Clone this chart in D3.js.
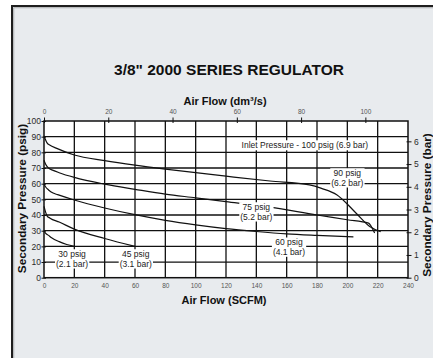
<!DOCTYPE html>
<html>
<head>
<meta charset="utf-8">
<script src="https://cdn.jsdelivr.net/npm/d3@7"></script>
<style>
  html, body { margin: 0; padding: 0; background: #ffffff; }
  svg { display: block; }
  text { font-family: Arial, "Liberation Sans", sans-serif; }
</style>
</head>
<body>
<script>
// Regulator flow curves: secondary pressure (psig) versus air flow (SCFM)
const title = '3/8" 2000 SERIES REGULATOR';
const scfmTicks = [0, 20, 40, 60, 80, 100, 120, 140, 160, 180, 200, 220, 240];
const psigTicks = [0, 10, 20, 30, 40, 50, 60, 70, 80, 90, 100];
const dm3sTicks = [0, 20, 40, 60, 80, 100];
const barTicks = [0, 1, 2, 3, 4, 5, 6];

const flow90 = [0, 1, 2, 4, 8, 20, 40, 60, 80, 100, 120, 149, 175, 183, 193, 206, 215, 222];
const psig90 = [90.5, 88, 86, 84.5, 82.7, 78.3, 74.7, 71.8, 69.3, 67, 64.8, 61.7, 59.2, 57, 53, 41, 32.5, 29.3];

const flow75 = [0, 1, 3, 6, 10, 20, 40, 60, 80, 100, 120, 149, 180, 200, 214, 216.5, 218];
const psig75 = [75, 72.5, 70, 68.5, 67, 64, 59.7, 56.4, 53.3, 51, 48.6, 45, 40, 37, 34.8, 31.5, 28.5];

const flow60 = [0, 1, 3, 6, 9, 20, 40, 60, 80, 100, 120, 140, 160, 180, 204];
const psig60 = [60, 58, 56, 54, 53, 49.6, 44.5, 40.2, 36.6, 33.7, 31.3, 29.5, 28, 27, 26];

const flow45 = [0, 1, 2, 4, 10, 20, 40, 60];
const psig45 = [45.5, 42, 39.5, 38, 35.5, 31, 25, 20];

const flow30 = [0, 1, 3, 5, 10, 15, 20];
const psig30 = [30, 28.5, 27, 25.5, 23, 21.2, 20];

const curveLabels = [
  { lines: ["Inlet Pressure - 100 psig (6.9 bar)"], flow: 172, psig: 84.5 },
  { lines: ["90 psig", "(6.2 bar)"], flow: 200, psig: 63.7 },
  { lines: ["75 psig", "(5.2 bar)"], flow: 140, psig: 42 },
  { lines: ["60 psig", "(4.1 bar)"], flow: 161.5, psig: 19.5 },
  { lines: ["30 psig", "(2.1 bar)"], flow: 18.5, psig: 12 },
  { lines: ["45 psig", "(3.1 bar)"], flow: 60.5, psig: 12 }
];

const W = 433, H = 358;
const svg = d3.select("body").append("svg").attr("width", W).attr("height", H);

// panel with dark frame
svg.append("rect").attr("x", 12).attr("y", 6).attr("width", 600).attr("height", 600)
  .attr("fill", "#e8ebee").attr("stroke", "#1e1e1e").attr("stroke-width", 2);
svg.append("rect").attr("x", 13.8).attr("y", 7.8).attr("width", 600).attr("height", 600)
  .attr("fill", "none").attr("stroke", "#9a9c9e").attr("stroke-width", 0.8);

const pL = 44, pR = 408, pT = 121, pB = 277.7;
const x = d3.scaleLinear().domain([0, 240]).range([pL, pR]);
const y = d3.scaleLinear().domain([0, 100]).range([pB, pT]);
const xTop = d3.scaleLinear().domain([0, 240 * 0.47195]).range([pL, pR]);
const yBar = d3.scaleLinear().domain([0, 100 / 14.5038]).range([pB, pT]);
const fmt = d3.format("d");

svg.append("text").attr("x", 229).attr("y", 75).attr("text-anchor", "middle")
  .attr("font-size", 15.5).attr("font-weight", "bold").attr("fill", "#111").text(title);

svg.append("text").attr("x", 225).attr("y", 105).attr("text-anchor", "middle")
  .attr("font-size", 11).attr("font-weight", "bold").attr("fill", "#111").text("Air Flow (dm³/s)");
svg.append("text").attr("x", 224).attr("y", 304).attr("text-anchor", "middle")
  .attr("font-size", 11).attr("font-weight", "bold").attr("fill", "#111").text("Air Flow (SCFM)");

svg.append("text").attr("transform", "translate(26,198.5) rotate(-90)").attr("text-anchor", "middle")
  .attr("font-size", 11.8).attr("font-weight", "bold").attr("fill", "#111").text("Secondary Pressure (psig)");
svg.append("text").attr("transform", "translate(431,205) rotate(-90)").attr("text-anchor", "middle")
  .attr("font-size", 11.8).attr("font-weight", "bold").attr("fill", "#111").text("Secondary Pressure (bar)");

// plot area
svg.append("rect").attr("x", pL).attr("y", pT).attr("width", pR - pL).attr("height", pB - pT)
  .attr("fill", "#ffffff");

const grid = svg.append("g").attr("stroke", "#111").attr("stroke-width", 1.3);
grid.selectAll("line.v").data(scfmTicks.slice(1, -1)).join("line").attr("class", "v")
  .attr("x1", d => x(d)).attr("x2", d => x(d)).attr("y1", pT).attr("y2", pB);
grid.selectAll("line.h").data(psigTicks.slice(1, -1)).join("line").attr("class", "h")
  .attr("x1", pL).attr("x2", pR).attr("y1", d => y(d)).attr("y2", d => y(d));

// axes
function styleAxis(g, fontSize, color) {
  g.select(".domain").remove();
  g.selectAll(".tick line").attr("stroke", "#111").attr("stroke-width", 1);
  g.selectAll(".tick text").attr("font-size", fontSize).attr("fill", color)
    .attr("font-family", "Arial, 'Liberation Sans', sans-serif");
}
svg.append("g").attr("transform", `translate(${pL},0)`)
  .call(d3.axisLeft(y).tickValues(psigTicks).tickFormat(fmt).tickSize(3).tickPadding(0))
  .call(g => styleAxis(g, 8.5, "#2a2a2a"))
  .call(g => g.selectAll(".tick line").attr("x2", -2.5).attr("x1", 2));
svg.append("g").attr("transform", `translate(${pR},0)`)
  .call(d3.axisRight(yBar).tickValues(barTicks).tickFormat(fmt).tickSize(3).tickPadding(3))
  .call(g => styleAxis(g, 8.5, "#2a2a2a"))
  .call(g => g.selectAll(".tick line").attr("x1", -1.5).attr("x2", 3.5));
svg.append("g").attr("transform", `translate(0,${pB})`)
  .call(d3.axisBottom(x).tickValues(scfmTicks).tickFormat(fmt).tickSize(0).tickPadding(6))
  .call(g => styleAxis(g, 6.5, "#555"));
svg.append("g").attr("transform", `translate(0,${pT})`)
  .call(d3.axisTop(xTop).tickValues(dm3sTicks).tickFormat(fmt).tickSize(4).tickPadding(3.5))
  .call(g => styleAxis(g, 6.5, "#555"))
  .call(g => g.selectAll(".tick line").attr("y1", 2).attr("y2", -3.5));

// plot border
svg.append("rect").attr("x", pL).attr("y", pT).attr("width", pR - pL).attr("height", pB - pT)
  .attr("fill", "none").attr("stroke", "#111").attr("stroke-width", 1.5);

// flow curves
const line = d3.line().x(d => x(d[0])).y(d => y(d[1])).curve(d3.curveMonotoneX);
const series = [[flow90, psig90], [flow75, psig75], [flow60, psig60], [flow45, psig45], [flow30, psig30]];
svg.append("g").selectAll("path").data(series).join("path")
  .attr("d", s => line(s[0].map((f, i) => [f, s[1][i]])))
  .attr("fill", "none").attr("stroke", "#111").attr("stroke-width", 1.2);

// curve labels on white boxes
curveLabels.forEach(lbl => {
  const g = svg.append("g");
  const cx = x(lbl.flow), cy = y(lbl.psig);
  const n = lbl.lines.length, lh = 9.3;
  const t = g.append("text").attr("text-anchor", "middle").attr("font-size", 8.5).attr("fill", "#222");
  lbl.lines.forEach((s, i) => {
    t.append("tspan").attr("x", cx).attr("y", cy - (n - 1) * lh / 2 + i * lh + 3).text(s);
  });
  const b = t.node().getBBox();
  g.insert("rect", "text").attr("x", b.x - 1).attr("y", b.y).attr("width", b.width + 2).attr("height", b.height)
    .attr("fill", "#ffffff");
});
</script>
</body>
</html>
